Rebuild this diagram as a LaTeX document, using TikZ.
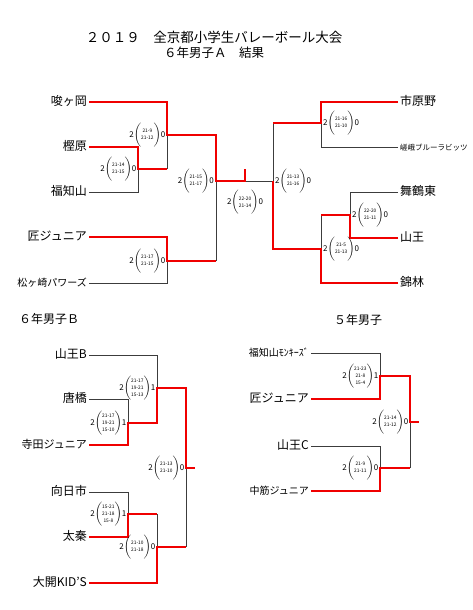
\documentclass[tikz,border=0pt]{standalone}
\usepackage{fontspec}
\setmainfont{Noto Sans CJK JP}
\usetikzlibrary{positioning}

\definecolor{winred}{RGB}{240,0,0}
\definecolor{losegray}{RGB}{60,60,60}

% score in a bracket: sets won, set scores, sets lost
\newcommand{\setres}[3]{#1$\left(\rule[-8.5pt]{0pt}{19pt}\vcenter{\hbox{\fontsize{4.8}{7}\selectfont
  \begin{tabular}{@{}c@{}}#2\end{tabular}}}\right)$#3}

\tikzset{
  win/.style={draw=winred, line width=2.5pt},
  lose/.style={draw=losegray, line width=0.8pt},
  lname/.style={anchor=east, inner sep=2pt, text height=0.88em, text depth=0.12em,
    font=\fontsize{12}{12}\selectfont},
  rname/.style={lname, anchor=west},
  res/.style={inner sep=0pt, font=\fontsize{8}{8}\selectfont},
  head/.style={inner sep=0pt, font=\fontsize{12}{12}\selectfont},
}

\begin{document}
\begin{tikzpicture}[x=1pt, y=-1pt]
    \useasboundingbox (0,0) rectangle (472,610);

    % titles
    \node[head, font=\fontsize{13.5}{13.5}\selectfont] (t1) at (214,37) {２０１９　全京都小学生バレーボール大会};
    \node[head, font=\fontsize{12.5}{12.5}\selectfont] (t2) at (214,53) {６年男子Ａ　結果};
    \node[head, anchor=west] (hb) at (19,319) {６年男子Ｂ};
    \node[head] (h5) at (358,320) {５年男子};

    % 6年男子A
    \node[lname] (sag) at (89,102) {唆ヶ岡};
    \node[lname] (kas) at (89,147) {樫原};
    \node[lname] (fuk) at (89,192) {福知山};
    \node[lname] (tak) at (89,237) {匠ジュニア};
    \node[lname, font=\fontsize{10}{10}\selectfont] (mat) at (89,283) {松ヶ崎パワーズ};
    \node[rname] (ich) at (398,102) {市原野};
    \node[rname, font=\fontsize{7.5}{7.5}\selectfont] (sbr) at (398,147) {嵯峨ブルーラビッツ};
    \node[rname] (mai) at (398,192) {舞鶴東};
    \node[rname] (san) at (398,238) {山王};
    \node[rname] (nis) at (398,283) {錦林};

    \coordinate (a1) at (138,169);
    \coordinate (a2) at (167,135);
    \coordinate (a3) at (167,261);
    \coordinate (a4) at (216,181);
    \coordinate (fa) at (245,181);
    \coordinate (ta) at (245,169);
    \coordinate (a5) at (273,181);
    \coordinate (a6) at (321,123);
    \coordinate (a7) at (350,215);
    \coordinate (a8) at (321,249);

    \draw[lose] (fuk.east) -| (a1);
    \draw[lose] (a1 -| a2) -- (a2);
    \draw[lose] (mat.east) -| (a3);
    \draw[lose] (a3 -| a4) -- (a4);
    \draw[lose] (a5) -- (fa);
    \draw[lose] (a6 -| a5) -- (a5);
    \draw[lose] (sbr.west) -| (a6);
    \draw[lose] (mai.west) -| (a7);
    \draw[lose] (a7 -| a8) -- (a8);

    \draw[win] (kas.east) -| (a1) -- (a1 -| a2);
    \draw[win] (tak.east) -| (a3) -- (a3 -| a4);
    \draw[win] (sag.east) -| (a2) -- (a2 -| a4) -- (a4) -- (fa) -- (ta);
    \draw[win] (ich.west) -| (a6) -- (a6 -| a5);
    \draw[win] (san.west) -| (a7) -- (a7 -| a8);
    \draw[win] (nis.west) -| (a8) -- (a8 -| a5) -- (a5);

    \node[res, left=1.5pt of a1] (r1) {\setres{2}{21-14\\21-15}{0}};
    \node[res, left=1.5pt of a2] (r2) {\setres{2}{21-9\\21-12}{0}};
    \node[res, left=1.5pt of a3] (r3) {\setres{2}{21-17\\21-15}{0}};
    \node[res, left=2pt of a4] (r4) {\setres{2}{21-15\\21-17}{0}};
    \node[res, below=9pt of fa] (rf) {\setres{2}{22-20\\21-14}{0}};
    \node[res, right=2pt of a5] (r5) {\setres{2}{21-13\\21-16}{0}};
    \node[res, right=2pt of a6] (r6) {\setres{2}{21-16\\21-10}{0}};
    \node[res, right=2pt of a7] (r7) {\setres{2}{22-20\\21-11}{0}};
    \node[res, right=2pt of a8] (r8) {\setres{2}{21-5\\21-13}{0}};

    % 6年男子B
    \node[lname] (yab) at (89,355) {山王B};
    \node[lname] (kar) at (89,399) {唐橋};
    \node[lname, font=\fontsize{11}{11}\selectfont] (ter) at (89,445) {寺田ジュニア};
    \node[lname] (muk) at (89,492) {向日市};
    \node[lname] (uzu) at (89,537) {太秦};
    \node[lname] (dai) at (89,583) {大開KID'S};

    \coordinate (b1) at (128,423);
    \coordinate (b2) at (157,388);
    \coordinate (b3) at (128,514);
    \coordinate (b4) at (157,547);
    \coordinate (bf) at (186,468);
    \coordinate (tb) at (195,468);

    \draw[lose] (yab.east) -| (b2);
    \draw[lose] (kar.east) -| (b1);
    \draw[lose] (muk.east) -| (b3);
    \draw[lose] (b3 -| b4) -- (b4);
    \draw[lose] (b4 -| bf) -- (bf);

    \draw[win] (ter.east) -| (b1) -- (b1 -| b2) -- (b2) -- (b2 -| bf) -- (bf) -- (tb);
    \draw[win] (uzu.east) -| (b3) -- (b3 -| b4);
    \draw[win] (dai.east) -| (b4) -- (b4 -| bf);

    \node[res, left=1.5pt of b1] (s1) {\setres{2}{21-17\\19-21\\15-10}{1}};
    \node[res, left=1.5pt of b2] (s2) {\setres{2}{21-17\\19-21\\15-13}{1}};
    \node[res, left=1.5pt of b3] (s3) {\setres{2}{15-21\\21-18\\15-8}{1}};
    \node[res, left=1.5pt of b4] (s4) {\setres{2}{21-10\\21-18}{0}};
    \node[res, left=1.5pt of bf] (sf) {\setres{2}{21-13\\21-10}{0}};

    % 5年男子
    \node[lname, font=\fontsize{10}{10}\selectfont] (fmk) at (311,353) {福知山ﾓﾝｷｰｽﾞ};
    \node[lname] (tk5) at (311,399) {匠ジュニア};
    \node[lname] (sac) at (311,446) {山王C};
    \node[lname, font=\fontsize{10}{10}\selectfont] (nak) at (311,491) {中筋ジュニア};

    \coordinate (c1) at (380,376);
    \coordinate (c2) at (380,468);
    \coordinate (cf) at (410,422);
    \coordinate (tc) at (419,422);

    \draw[lose] (fmk.east) -| (c1);
    \draw[lose] (sac.east) -| (c2);
    \draw[lose] (c2 -| cf) -- (cf);

    \draw[win] (tk5.east) -| (c1) -- (c1 -| cf) -- (cf) -- (tc);
    \draw[win] (nak.east) -| (c2) -- (c2 -| cf);

    \node[res, left=1.5pt of c1] (u1) {\setres{2}{21-23\\21-8\\15-4}{1}};
    \node[res, left=1.5pt of c2] (u2) {\setres{2}{21-9\\21-11}{0}};
    \node[res, left=1.5pt of cf] (uf) {\setres{2}{21-14\\21-12}{0}};
\end{tikzpicture}
\end{document}
